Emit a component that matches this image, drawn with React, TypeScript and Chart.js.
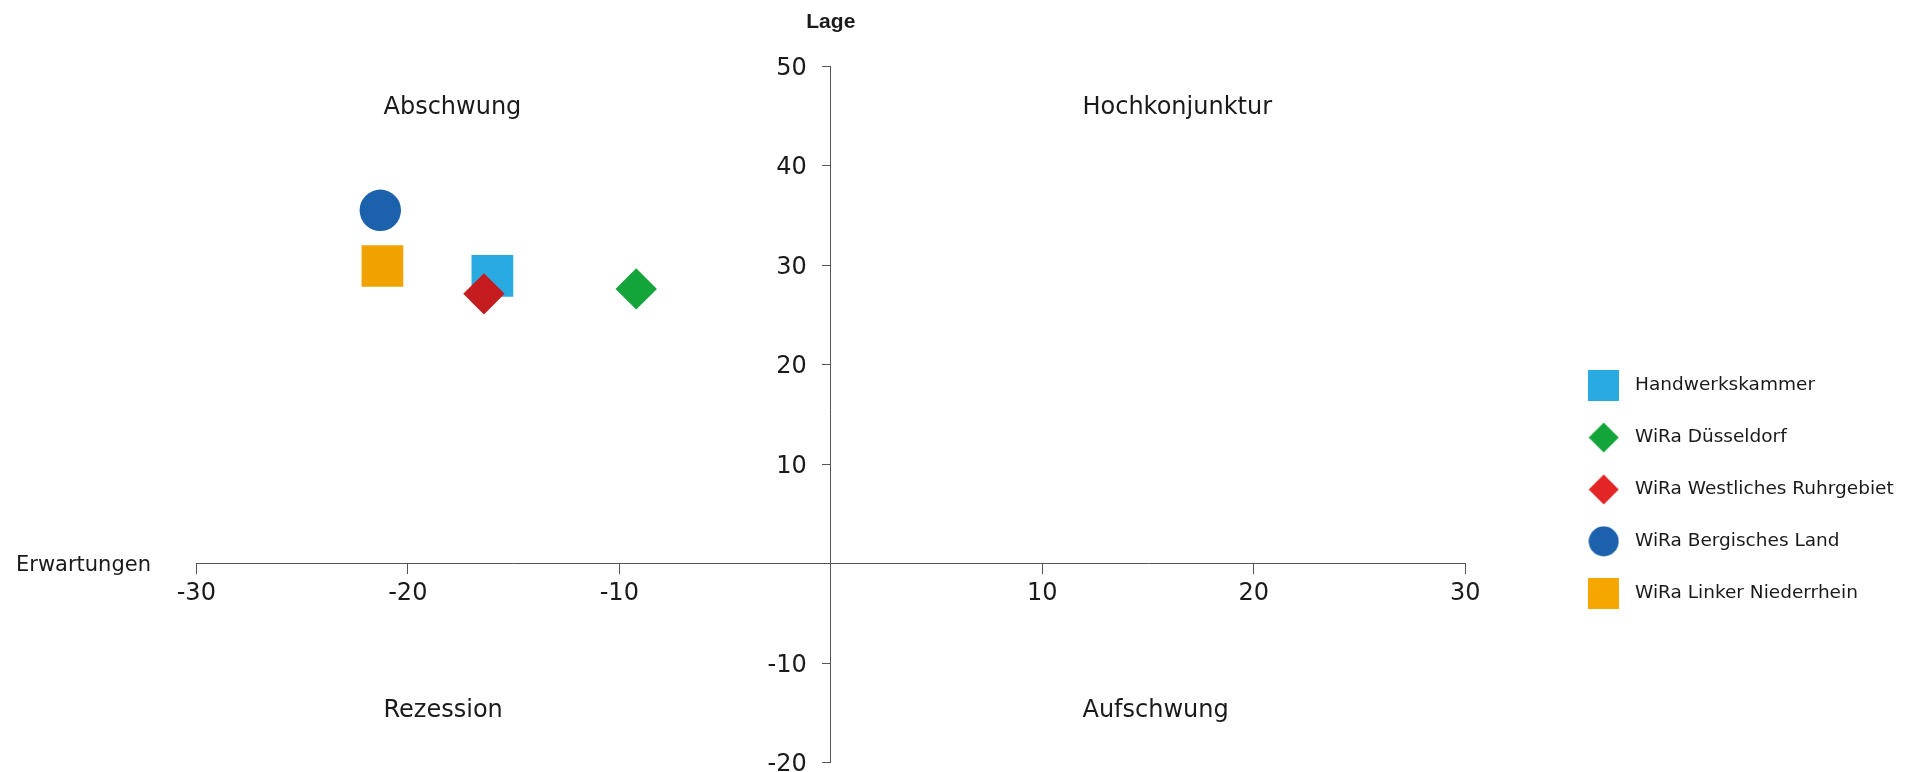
import React, { useEffect, useRef } from "react";
import { Chart, registerables } from "chart.js";

Chart.register(...registerables);

// Survey positions: x = Erwartungen (expectations), y = Lage (current situation)
const seriesNames = [
  "Handwerkskammer",
  "WiRa Düsseldorf",
  "WiRa Westliches Ruhrgebiet",
  "WiRa Bergisches Land",
  "WiRa Linker Niederrhein",
];
const erwartungen = [-16.0, -9.2, -16.4, -21.3, -21.2];
const lage = [28.9, 27.6, 27.1, 35.5, 29.9];

const pointStyles = ["rect", "rectRot", "rectRot", "circle", "rect"];
const pointColors = ["#29ABE2", "#14A53A", "#C41C1F", "#1B61AB", "#F0A300"];
const legendColors = ["#29ABE2", "#14A53A", "#E32526", "#1B61AB", "#F5A700"];
const pointRadii = [29.5, 20.7, 20.7, 20.7, 29.5];

// Axis ranges and ticks
const xTicks = [-30, -20, -10, 0, 10, 20, 30];
const yTicks = [-20, -10, 0, 10, 20, 30, 40, 50];

// Quadrant captions (anchored at left/baseline in data units)
const quadrantNames = ["Abschwung", "Hochkonjunktur", "Rezession", "Aufschwung"];
const quadrantX = [-21.15, 11.9, -21.15, 11.9];
const quadrantY = [45.2, 45.2, -15.4, -15.4];

const xAxisTitle = "Erwartungen";
const yAxisTitle = "Lage";

const FONT = "'DejaVu Sans', Verdana, sans-serif";
const TEXT = "#1a1a1a";
const AXIS = "#555555";

function makeIcon(style: string, color: string): HTMLCanvasElement {
  const s = 31;
  const c = document.createElement("canvas");
  c.width = s;
  c.height = s;
  const g = c.getContext("2d")!;
  g.fillStyle = color;
  if (style === "circle") {
    g.beginPath();
    g.arc(s / 2, s / 2, 15, 0, Math.PI * 2);
    g.fill();
  } else if (style === "rectRot") {
    g.beginPath();
    g.moveTo(s / 2, 0.5);
    g.lineTo(s - 0.5, s / 2);
    g.lineTo(s / 2, s - 0.5);
    g.lineTo(0.5, s / 2);
    g.closePath();
    g.fill();
  } else {
    g.fillRect(0, 0, s, s);
  }
  return c;
}

// Axes crossing inside the plot should not reserve extra room for their labels
const noOverflow = (scale: any) => {
  scale.paddingLeft = 0;
  scale.paddingRight = 0;
  scale.paddingTop = 0;
  scale.paddingBottom = 0;
};

export default function App() {
  const canvasRef = useRef<HTMLCanvasElement | null>(null);

  useEffect(() => {
    const canvas = canvasRef.current;
    if (!canvas) return;

    const icons = seriesNames.map((_, i) => makeIcon(pointStyles[i], legendColors[i]));

    const datasets = seriesNames.map((name, i) => ({
      label: name,
      data: [{ x: erwartungen[i], y: lage[i] }],
      pointStyle: pointStyles[i] as any,
      pointRadius: pointRadii[i],
      pointHoverRadius: pointRadii[i],
      pointBorderWidth: 0,
      backgroundColor: pointColors[i],
      borderColor: pointColors[i],
      order: seriesNames.length - i,
    }));

    const captions = {
      id: "captions",
      afterLayout(chart: any) {
        const lg = chart.legend;
        if (!lg) return;
        lg.left = chart.chartArea.right + 83;
        lg.right = chart.width;
        lg.top = 343;
        lg.bottom = chart.height;
      },
      afterDraw(chart: any) {
        const { ctx } = chart;
        const xs = chart.scales.x;
        const ys = chart.scales.y;
        ctx.save();
        ctx.fillStyle = TEXT;
        ctx.textBaseline = "alphabetic";
        ctx.textAlign = "left";
        ctx.font = `24px ${FONT}`;
        quadrantNames.forEach((t, i) => {
          ctx.fillText(t, xs.getPixelForValue(quadrantX[i]), ys.getPixelForValue(quadrantY[i]));
        });
        ctx.font = `21px ${FONT}`;
        ctx.textAlign = "left";
        ctx.fillText(xAxisTitle, 16, ys.getPixelForValue(0) + 7.3);
        ctx.font = `bold 21px 'Liberation Sans', Arial, sans-serif`;
        ctx.textAlign = "center";
        ctx.fillText(yAxisTitle, xs.getPixelForValue(0), 27.8);
        ctx.restore();
      },
    };

    const defaultLabels = (Chart.defaults as any).plugins.legend.labels.generateLabels;

    const chart = new Chart(canvas, {
      type: "scatter",
      data: { datasets },
      plugins: [captions],
      options: {
        animation: false,
        responsive: true,
        maintainAspectRatio: false,
        events: [],
        layout: {
          autoPadding: false,
          padding: { left: 196.3, top: 66, right: 449.7, bottom: 9.5 },
        },
        scales: {
          x: {
            type: "linear",
            position: { y: 0 } as any,
            min: xTicks[0],
            max: xTicks[xTicks.length - 1],
            afterBuildTicks: (scale: any) => {
              scale.ticks = xTicks.map((v) => ({ value: v }));
            },
            afterFit: noOverflow,
            ticks: {
              autoSkip: false,
              maxRotation: 0,
              padding: 6,
              color: TEXT,
              font: { family: FONT, size: 24 },
              callback: (v: any) => (Number(v) === 0 ? "" : String(v)),
            },
            grid: {
              drawOnChartArea: false,
              drawTicks: true,
              tickLength: 10,
              color: (c: any) => (c.tick && c.tick.value === 0 ? "rgba(0,0,0,0)" : AXIS),
            },
            border: { display: true, color: AXIS, width: 1 },
          },
          y: {
            type: "linear",
            position: "center",
            min: yTicks[0],
            max: yTicks[yTicks.length - 1],
            afterBuildTicks: (scale: any) => {
              scale.ticks = yTicks.map((v) => ({ value: v }));
            },
            afterFit: noOverflow,
            ticks: {
              autoSkip: false,
              padding: 16,
              labelOffset: 2.5,
              color: TEXT,
              font: { family: FONT, size: 24 },
              callback: (v: any) => (Number(v) === 0 ? "" : String(v)),
            },
            grid: {
              drawOnChartArea: false,
              drawTicks: true,
              tickLength: 8,
              color: (c: any) => (c.tick && c.tick.value === 0 ? "rgba(0,0,0,0)" : AXIS),
            },
            border: { display: true, color: AXIS, width: 1 },
          },
        },
        plugins: {
          tooltip: { enabled: false },
          legend: {
            display: true,
            position: "chartArea" as any,
            align: "start",
            labels: {
              usePointStyle: true,
              pointStyleWidth: 44.1,
              padding: 33.4,
              color: TEXT,
              font: { family: FONT, size: 18.5 },
              sort: (a: any, b: any) => a.datasetIndex - b.datasetIndex,
              generateLabels: (ch: any) =>
                defaultLabels(ch).map((item: any) => ({
                  ...item,
                  pointStyle: icons[item.datasetIndex],
                  rotation: 0,
                })),
            },
          },
        },
      },
    });

    return () => chart.destroy();
  }, []);

  return (
    <div style={{ position: "absolute", left: 0, top: 0, width: 1915, height: 772 }}>
      <canvas ref={canvasRef} />
    </div>
  );
}
